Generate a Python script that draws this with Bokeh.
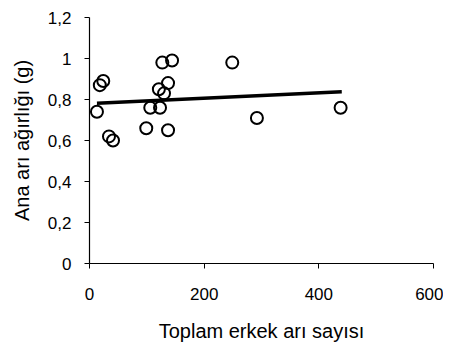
from bokeh.plotting import figure
from bokeh.models import Range1d, FixedTicker
from bokeh.embed import file_html
from bokeh.resources import INLINE

# data
erkek = [13, 18, 24, 34, 41, 99, 106, 123, 121, 130, 137, 137, 127, 144, 249, 292, 438]
agirlik = [0.74, 0.87, 0.89, 0.62, 0.60, 0.66, 0.76, 0.76, 0.85, 0.83, 0.88, 0.65, 0.98, 0.99, 0.98, 0.71, 0.76]
trend_x = [13, 440]
trend_y = [0.782, 0.838]
x_ticks = [0, 200, 400, 600]
y_ticks = [0, 0.2, 0.4, 0.6, 0.8, 1.0, 1.2]
y_tick_labels = ["0", "0,2", "0,4", "0,6", "0,8", "1", "1,2"]

p = figure(width=443, height=345, output_backend="svg", toolbar_location=None,
           x_range=Range1d(0, 600), y_range=Range1d(0, 1.2),
           min_border_left=89, min_border_right=10, min_border_top=17, min_border_bottom=82)
p.outline_line_color = None
p.grid.visible = False

p.line(trend_x, trend_y, line_color="black", line_width=3.5)
p.scatter(erkek, agirlik, marker="circle", size=12, fill_color=None,
          line_color="black", line_width=2)

FONT = "Liberation Sans"
for ax in (p.xaxis[0], p.yaxis[0]):
    ax.axis_line_color = "black"
    ax.axis_line_width = 1.2
    ax.major_tick_line_color = "black"
    ax.major_tick_in = 0
    ax.major_tick_out = 5
    ax.minor_tick_line_color = None
    ax.major_label_text_font = FONT
    ax.major_label_text_font_size = "17px"
    ax.major_label_text_color = "black"
    ax.axis_label_text_font = FONT
    ax.axis_label_text_font_size = "20px"
    ax.axis_label_text_font_style = "normal"
    ax.axis_label_text_color = "black"

p.xaxis[0].ticker = FixedTicker(ticks=x_ticks)
p.xaxis[0].axis_label = "Toplam erkek arı sayısı"
p.xaxis[0].major_label_standoff = 19
p.xaxis[0].axis_label_standoff = 17

p.yaxis[0].ticker = FixedTicker(ticks=y_ticks)
p.yaxis[0].major_label_overrides = {t: l for t, l in zip(y_ticks, y_tick_labels)}
p.yaxis[0].axis_label = "Ana arı ağırlığı (g)"
p.yaxis[0].major_label_standoff = 13
p.yaxis[0].axis_label_standoff = 12

open("out.html", "w").write(file_html(p, INLINE))
